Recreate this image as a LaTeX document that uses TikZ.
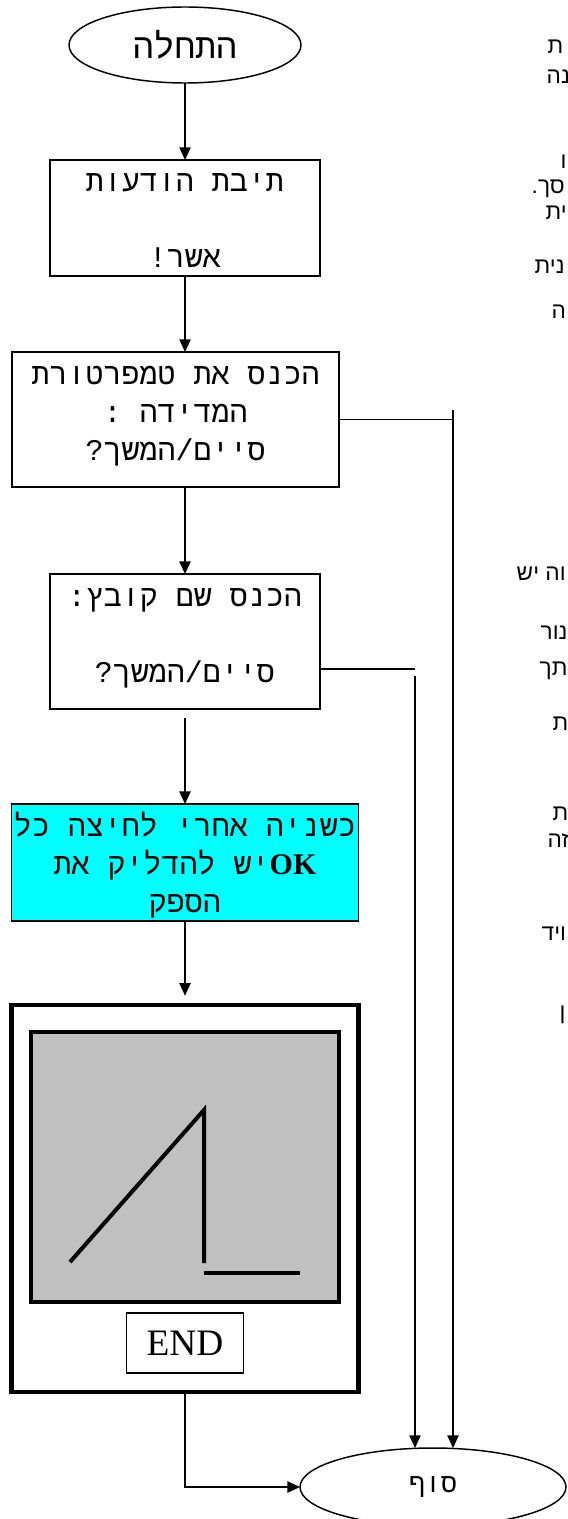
\documentclass[tikz,border=0pt]{standalone}
\usepackage{fontspec}
\setmainfont{Liberation Serif}
\newfontfamily\hebmono[Script=Hebrew]{Liberation Mono}
\newfontfamily\hebsans[Script=Hebrew]{Liberation Sans}
\TeXXeTstate=1
\usetikzlibrary{shapes.geometric, arrows.meta, positioning}
\definecolor{screengray}{RGB}{192,192,192}
\definecolor{noticecyan}{RGB}{0,255,255}
\newcommand{\heb}[1]{\beginR #1\endR}

\begin{document}
\begin{tikzpicture}[
    x=0.75pt, y=-0.75pt,
    line width=1.1pt,
    terminal/.style={draw, ellipse, line width=1.1pt, inner sep=0pt, outer sep=0pt},
    box/.style={draw, line width=1.2pt, inner sep=0pt, outer sep=0pt, align=center,
        text height=81pt, font=\hebmono\fontsize{22.5}{28.5}\selectfont},
    frame/.style={draw, inner sep=0pt, outer sep=0pt},
    arr/.style={-{Triangle[length=9.5pt, width=8.5pt]}},
    clipped/.style={anchor=base west, inner sep=0pt, font=\hebsans\fontsize{17}{20}\selectfont},
]
\useasboundingbox (0,0) rectangle (567,1519);

% main flow
\node[terminal, minimum width=174pt, minimum height=57pt, font=\hebmono\fontsize{26}{30}\selectfont] (start) at (185,45) {\heb{התחלה}};
\node[box, minimum width=202.5pt, text depth=6pt, below=57.75pt of start] (msg)
    {\heb{תיבת הודעות}\\[28.5pt]\heb{אשר!}};
\node[box, minimum width=245.25pt, text depth=20.25pt, below=57pt of msg, xshift=-7.1pt] (temp)
    {\heb{הכנס את טמפרטורת}\\\heb{המדידה :}\\\heb{סיים/המשך?}};
\node[box, minimum width=202.5pt, text depth=20.25pt, below=65.25pt of temp, xshift=7.1pt] (file)
    {\heb{הכנס שם קובץ:}\\[28.5pt]\heb{סיים/המשך?}};
\node[box, fill=noticecyan, minimum width=260.25pt, text depth=6.75pt, below=71.25pt of file] (notice)
    {\heb{כשניה אחרי לחיצה כל}\\\heb{\beginL\textbf{\rmfamily OK}\endL{}יש להדליק את}\\\heb{הספק}};

% screen with the ramp
\node[frame, line width=3.2pt, minimum width=260.25pt, minimum height=290.25pt, below=63pt of notice] (screen) {};
\node[frame, line width=3pt, fill=screengray, minimum width=231pt, minimum height=202.5pt, below=20.25pt of screen.north] (graph) {};
\node[frame, line width=1.2pt, minimum width=87.75pt, minimum height=45pt, font=\rmfamily\fontsize{28}{30}\selectfont, below=8.25pt of graph] (endbox) {END};
\draw[line width=3pt] (70,1262) -- (204,1110) -- (204,1263);
\draw[line width=3pt] (204,1273) -- (300,1273);

\node[terminal, minimum width=199.5pt, minimum height=58.5pt, font=\hebmono\fontsize{20}{24}\selectfont] (stop) at (433,1487) {\heb{סוף}};

\draw[arr] (start) -- (msg);
\draw[arr] (msg) -- (msg.south |- temp.north);
\draw[arr] (file.north |- temp.south) -- (file);
\draw[arr, shorten <=6.75pt] (file) -- (notice);
\draw[arr, shorten >=7pt] (notice) -- (screen);
\draw[arr] (screen) |- (stop);

% exits to the end
\coordinate (tempbus) at (453,410);
\coordinate (filebus) at (415,676);
\draw (temp.east) -- (temp.east -| tempbus);
\draw[arr] (tempbus) -- (tempbus |- stop.north);
\draw ([yshift=-20.6pt]file.east) -- ([yshift=-20.6pt]file.east -| filebus);
\draw[arr] (filebus) -- (filebus |- stop.north);

% text running in from the right
\foreach \x/\y/\t [count=\i] in {547/54/ת, 546/84/נה, 560/169/ו, 531/194/סך., 545/220/ית,
    534/274/נית, 551/319/ה, 516/580/וה יש, 540/639/נור, 539/675/תך, 552/730/ת,
    552/820/ת, 547/847/זה, 541/940/ויד, 559/1019/ן}
    \node[clipped] (line\i) at (\x,\y) {\heb{\t}};
\end{tikzpicture}
\end{document}
